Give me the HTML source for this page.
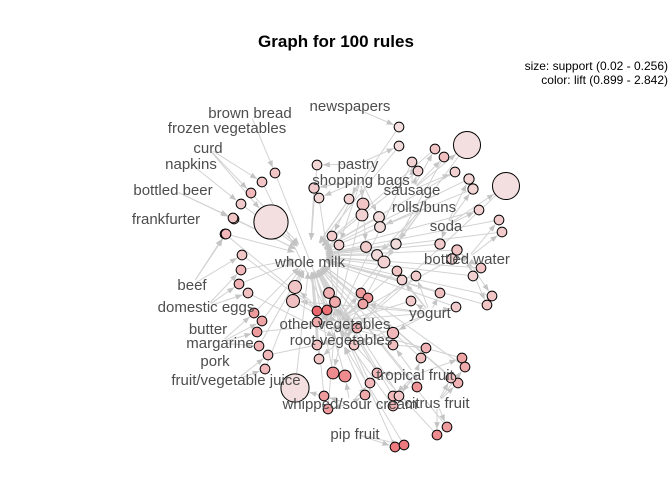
<!DOCTYPE html>
<html><head><meta charset="utf-8"><style>
html,body{margin:0;padding:0;background:#fff;}
svg{display:block;font-family:"Liberation Sans",sans-serif;}
</style></head><body>
<svg id="chart" width="672" height="480">
<defs><marker id="ah" viewBox="0 0 10 10" refX="10" refY="5" markerWidth="7" markerHeight="7" orient="auto-start-reverse"><path d="M0,1 L10,5 L0,9 z" fill="#c4c4c4"/></marker></defs>
<text x="336" y="47" text-anchor="middle" font-size="17" font-weight="bold" fill="#000">Graph for 100 rules</text>
<text x="668" y="70" text-anchor="end" font-size="12" fill="#000">size: support (0.02 - 0.256)</text>
<text x="668" y="84" text-anchor="end" font-size="12" fill="#000">color: lift (0.899 - 2.842)</text>
<g id="edges"></g><g id="nodes"></g><g id="labels"></g>
</svg>
<script>
const itemNames=["newspapers","brown bread","frozen vegetables","curd","napkins","bottled beer","frankfurter","whole milk","pastry","shopping bags","sausage","rolls/buns","soda","bottled water","beef","domestic eggs","butter","margarine","pork","fruit/vegetable juice","other vegetables","root vegetables","yogurt","tropical fruit","citrus fruit","whipped/sour cream","pip fruit"];
const itemX=[350,250,227,208,191,173,166,310,358,361,412,424,446,467,192,206,208,220,215,236,335,341,430,415,437,350,355];
const itemY=[106,113,128,148,164,190,219,262,164,180,190,207,226,259,285,307,329,343,361,380,324,340,313,375,403,404,434];
const ruleX=[399,399,317,275,262,251,241,234,225,271,314,319,349,363,362,379,380,332,339,366,377,384,396,397,402,416,440,457,452,473,481,435,444,412,418,455,469,473,467,506,479,499,502,242,241,239,248,295,293,329,335,361,368,363,317,327,254,262,257,259,268,265,295,317,357,317,319,354,393,393,333,345,324,328,365,370,377,393,393,399,417,426,421,411,440,456,487,492,462,465,458,451,447,437,395,404,226,233];
const ruleY=[127,146,165,173,182,193,204,219,234,222,188,198,199,204,215,217,227,236,245,247,255,262,244,271,280,276,244,250,259,276,268,149,157,162,171,172,179,189,145,186,210,220,232,255,270,284,293,287,301,293,302,293,298,304,311,310,313,321,332,346,355,369,388,322,328,345,359,345,333,345,373,376,396,409,395,383,373,396,406,396,387,348,358,301,293,307,305,296,358,367,383,378,427,435,447,445,234,218];
const ruleSupport=[0.03,0.03,0.03,0.03,0.03,0.03,0.03,0.03,0.03,0.256,0.035,0.03,0.03,0.05,0.05,0.04,0.04,0.03,0.03,0.04,0.04,0.05,0.035,0.03,0.03,0.03,0.035,0.035,0.035,0.03,0.03,0.03,0.03,0.03,0.03,0.03,0.035,0.035,0.19,0.19,0.03,0.03,0.03,0.03,0.03,0.03,0.03,0.06,0.06,0.04,0.04,0.03,0.03,0.03,0.03,0.03,0.03,0.03,0.03,0.03,0.03,0.03,0.2,0.03,0.03,0.03,0.03,0.03,0.045,0.03,0.05,0.05,0.03,0.03,0.03,0.03,0.03,0.03,0.03,0.03,0.03,0.03,0.03,0.03,0.03,0.03,0.03,0.03,0.03,0.03,0.03,0.03,0.03,0.03,0.03,0.03,0.03,0.03];
const ruleLift=[1.1,1.2,1.3,1.6,1.6,1.8,1.5,1.4,1.5,1.1,1.5,1.3,1.4,1.6,1.4,1.2,1.2,1.5,1.4,1.5,1.2,1.4,1.2,1.6,1.4,1.5,1.5,1.6,1.4,1.4,1.6,1.6,1.7,1.4,1.4,1.4,1.3,1.3,1.1,1.1,1.4,1.5,1.5,1.6,1.8,1.9,1.7,1.6,1.7,1.9,2.0,2.2,2.3,2.1,2.8,2.7,2.2,2.1,2.2,1.9,1.8,1.8,1.1,2.0,2.0,1.7,1.6,1.6,1.8,1.7,2.4,2.4,2.2,2.2,2.0,1.8,1.8,1.8,1.9,1.6,2.3,1.9,1.7,1.5,1.7,1.5,1.6,1.6,2.1,2.0,1.9,1.7,2.2,2.4,2.6,2.6,1.8,1.6];
const rhsList=["whole milk","other vegetables","root vegetables","yogurt","rolls/buns","soda"];
const NS="http://www.w3.org/2000/svg";
const eg=document.getElementById('edges'),ng=document.getElementById('nodes'),lg=document.getElementById('labels');
function rScale(s){return 4.3+(s-0.02)/(0.256-0.02)*12.8;}
function colScale(l){let t=Math.max(0,Math.min(1,(l-0.899)/(2.842-0.899)));t=Math.pow(t,1.4);const a=[243,228,228],b=[234,100,105];return 'rgb('+a.map((v,i)=>Math.round(v+(b[i]-v)*t)).join(',')+')';}
function idx(n){return itemNames.indexOf(n);}
function line(x1,y1,x2,y2,r1,r2){const dx=x2-x1,dy=y2-y1,d=Math.hypot(dx,dy)||1;const l=document.createElementNS(NS,'line');
l.setAttribute('x1',x1+dx/d*r1);l.setAttribute('y1',y1+dy/d*r1);l.setAttribute('x2',x2-dx/d*r2);l.setAttribute('y2',y2-dy/d*r2);
l.setAttribute('stroke','#d2d2d2');l.setAttribute('stroke-width','1');l.setAttribute('marker-end','url(#ah)');


eg.appendChild(l);}
for(let i=0;i<ruleX.length;i++){
  const x=ruleX[i],y=ruleY[i],r=rScale(ruleSupport[i]);
  let best=-1,bd=1e9;for(let j=0;j<itemNames.length;j++){if(j===7)continue;const d=Math.hypot(itemX[j]-x,itemY[j]-y);if(d<bd){bd=d;best=j;}}
  const rhs=(i%5===3)?idx(rhsList[1]):(i%7===4?idx(rhsList[2]):7);
  const lhsItem=best===rhs?idx("yogurt"):best;
  line(itemX[lhsItem],itemY[lhsItem],x,y,6,r+1);
  line(x,y,itemX[rhs],itemY[rhs]-(rhs===7?6:0),r,rhs===7?16:8);
  const c=document.createElementNS(NS,'circle');
  c.setAttribute('cx',x);c.setAttribute('cy',y);c.setAttribute('r',r);
  c.setAttribute('fill',colScale(ruleLift[i]));c.setAttribute('stroke','#000');c.setAttribute('stroke-width','1');
  
  
  ng.appendChild(c);
}
for(let j=0;j<itemNames.length;j++){
  const t=document.createElementNS(NS,'text');
  t.setAttribute('x',itemX[j]);t.setAttribute('y',itemY[j]+5);t.setAttribute('text-anchor','middle');
  t.setAttribute('font-size','15');t.setAttribute('fill','#4d4d4d');t.textContent=itemNames[j];
  
  
  lg.appendChild(t);
}
</script>
</body></html>
